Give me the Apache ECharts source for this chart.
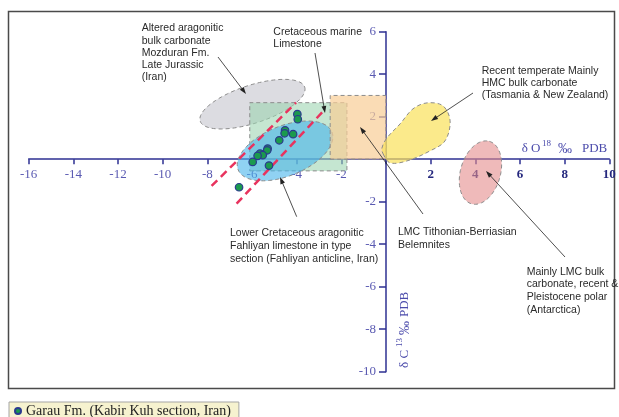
<!DOCTYPE html>
<html><head><meta charset="utf-8">
<script src="https://cdn.jsdelivr.net/npm/echarts@6/dist/echarts.min.js"></script>
<style>html,body{margin:0;padding:0;background:#fff}#c{width:619px;height:417px}</style>
</head><body><div id="c"></div>
<script>
// ---- data (delta O18 / delta C13, per mil PDB) ----
const seriesName = 'Garau Fm. (Kabir Kuh section, Iran)';
const garauD18O = [-3.97, -3.95, -4.52, -4.54, -4.16, -4.78, -5.30, -5.32, -5.64, -5.52, -5.75, -5.97, -5.24, -6.58];
const garauD13C = [2.12, 1.88, 1.36, 1.22, 1.18, 0.89, 0.50, 0.42, 0.26, 0.19, 0.16, -0.13, -0.30, -1.32];

// field regions in data units: ellipse = [cx, cy, ux, uy, vx, vy]
const alteredEllipse = [-5.98, 2.59, 2.34, 0.80, 0.26, -0.85];
const fahliyanEllipse = [-4.52, 0.39, 2.10, 0.89, 0.42, -1.09];
const polarEllipse = [4.23, -0.63, 0.40, 1.47, 0.86, -0.26];
// rect = [x1, y1, x2, y2]
const marineRect = [-6.1, -0.55, -1.75, 2.66];
const belemniteRect = [-2.5, 0, 0, 3];
const temperateOutline = [[-0.13, 0.25], [0.18, -0.17], [0.94, -0.08], [1.97, 0.39], [2.64, 0.86], [2.87, 1.80], [2.55, 2.51], [1.84, 2.65], [1.21, 2.37], [0.63, 1.66], [0.04, 1.0], [-0.18, 0.53]];
const trendLineA = [[-7.81, -1.26], [-4.03, 2.66]];
const trendLineB = [[-6.69, -2.09], [-2.73, 2.35]];

const xMin = -16, xMax = 10, yMin = -10, yMax = 6, tickStep = 2;

// ---- layout / styles ----
const W = 619, H = 417;
const G = { left: 28.7, right: 9.7, top: 31.7, bottom: 45.3 };
const plotW = W - G.left - G.right, plotH = H - G.top - G.bottom;
// place axes through the origin (move them inward from grid edges)
const xAxisOffset = -plotH * (0 - yMin) / (yMax - yMin);
const yAxisOffset = -plotW * (0 - xMin) / (xMax - xMin);

const AX = '#2e3192';
const LBL = '#5a5ab2';
const SERIF = '"Liberation Serif", "DejaVu Serif", serif';
const SANS = '"Liberation Sans", Arial, sans-serif';
const dashBorder = { stroke: '#8c8c8c', lineWidth: 1, lineDash: [4, 3] };

function ellipsePts(e) {
  const pts = [];
  for (let i = 0; i < 90; i++) {
    const t = i / 90 * Math.PI * 2;
    pts.push([e[0] + Math.cos(t) * e[2] + Math.sin(t) * e[4], e[1] + Math.cos(t) * e[3] + Math.sin(t) * e[5]]);
  }
  return pts;
}
function rectPts(r) { return [[r[0], r[1]], [r[2], r[1]], [r[2], r[3]], [r[0], r[3]]]; }

function shapeSeries(name, pts, fill, smooth, z) {
  return {
    type: 'custom', name: name, silent: true, z: z, clip: false,
    data: [pts[0]],
    renderItem: function (params, api) {
      return {
        type: 'polygon',
        shape: { points: pts.map(p => api.coord(p)), smooth: smooth || 0 },
        style: Object.assign({ fill: fill }, dashBorder)
      };
    }
  };
}

const chart = echarts.init(document.getElementById('c'), null, { renderer: 'canvas' });

const option = {
  animation: false,
  backgroundColor: '#fff',
  grid: { left: G.left, right: G.right, top: G.top, bottom: G.bottom, containLabel: false, outerBoundsMode: 'none' },
  xAxis: {
    type: 'value', min: xMin, max: xMax, interval: tickStep, position: 'bottom', offset: xAxisOffset,
    axisLine: { onZero: false, lineStyle: { color: AX, width: 1.5 } },
    axisTick: { length: 5, lineStyle: { color: AX, width: 1.5 } },
    splitLine: { show: false },
    axisLabel: {
      margin: 9, showMinLabel: true, showMaxLabel: true,
      formatter: v => v === 0 ? '' : (v < 0 ? '{n|' + v + '}' : '{p|' + v + '}'),
      rich: {
        n: { color: LBL, fontFamily: SERIF, fontSize: 13 },
        p: { color: '#25287e', fontFamily: SERIF, fontSize: 13, fontWeight: 'bold' }
      }
    }
  },
  yAxis: {
    type: 'value', min: yMin, max: yMax, interval: tickStep, position: 'left', offset: yAxisOffset,
    axisLine: { onZero: false, lineStyle: { color: AX, width: 1.5 } },
    axisTick: { length: 7, lineStyle: { color: AX, width: 1.5 } },
    splitLine: { show: false },
    axisLabel: { margin: 10, color: LBL, fontFamily: SERIF, fontSize: 13, formatter: v => v === 0 ? '' : String(v) }
  },
  legend: {
    data: [seriesName], left: 9, top: 402, icon: 'circle', itemWidth: 6, itemHeight: 6, itemGap: 5,
    backgroundColor: '#f6f2cf', borderColor: '#a5a5a5', borderWidth: 1, padding: [2, 8, 3, 5],
    textStyle: { fontFamily: SERIF, fontSize: 14, color: '#222' }
  },
  series: [
    shapeSeries('altered', ellipsePts(alteredEllipse), 'rgba(208,208,215,0.75)', 0, 2),
    shapeSeries('marine', rectPts(marineRect), 'rgba(155,212,175,0.58)', 0, 3),
    shapeSeries('fahliyan', ellipsePts(fahliyanEllipse), 'rgba(70,180,235,0.6)', 0, 4),
    shapeSeries('belemnites', rectPts(belemniteRect), 'rgba(248,205,150,0.7)', 0, 5),
    shapeSeries('temperate', temperateOutline, 'rgba(250,225,90,0.7)', 0.35, 5),
    shapeSeries('polar', ellipsePts(polarEllipse), 'rgba(228,140,140,0.6)', 0, 5),
    { type: 'line', name: 'trendA', data: trendLineA, symbol: 'none', silent: true, z: 6,
      lineStyle: { color: '#e8335e', width: 2.5, type: [8, 5] } },
    { type: 'line', name: 'trendB', data: trendLineB, symbol: 'none', silent: true, z: 6,
      lineStyle: { color: '#e8335e', width: 2.5, type: [8, 5] } },
    { type: 'scatter', name: seriesName, z: 8, symbolSize: 7.5,
      data: garauD18O.map((x, i) => [x, garauD13C[i]]),
      itemStyle: { color: '#1b9a4e', borderColor: '#2b3a8f', borderWidth: 1.2, opacity: 1 } }
  ]
};

// ---- annotations (pixel layout) ----
const notes = [
  { t: 'Altered aragonitic\nbulk carbonate\nMozduran Fm.\nLate Jurassic\n(Iran)', x: 141.7, y: 22.2, lh: 12.3, a: [218, 57, 246, 94] },
  { t: 'Cretaceous marine\nLimestone', x: 273.3, y: 26.3, lh: 12, a: [315, 53, 325, 113] },
  { t: 'Recent temperate Mainly\nHMC bulk carbonate\n(Tasmania & New Zealand)', x: 481.7, y: 64.5, lh: 12.3, a: [473, 93, 431, 121] },
  { t: 'LMC Tithonian-Berriasian\nBelemnites', x: 398, y: 225, lh: 13.3, a: [423, 214, 360, 127] },
  { t: 'Mainly LMC bulk\ncarbonate, recent &\nPleistocene polar\n(Antarctica)', x: 526.7, y: 265.3, lh: 12.8, a: [565, 257, 486, 171] },
  { t: 'Lower Cretaceous aragonitic\nFahliyan limestone in type\nsection (Fahliyan anticline, Iran)', x: 230, y: 226.8, lh: 13, a: [296.7, 216.7, 280, 177] }
];
const graphics = [
  { type: 'rect', shape: { x: 8.5, y: 11.5, width: 606, height: 377 }, style: { fill: 'none', stroke: '#4a4a4a', lineWidth: 1.5 }, z: 0, silent: true }
];
notes.forEach(n => {
  graphics.push({ type: 'text', z: 20, silent: true, style: { text: n.t, x: n.x, y: n.y, font: '10.5px ' + SANS, fill: '#2a2a2a', lineHeight: n.lh, align: 'left', verticalAlign: 'top' } });
  const [x1, y1, x2, y2] = n.a;
  const dx = x2 - x1, dy = y2 - y1, L = Math.hypot(dx, dy), ux = dx / L, uy = dy / L;
  const hl = 7, hw = 2.4;
  graphics.push({ type: 'line', z: 20, silent: true, shape: { x1: x1, y1: y1, x2: x2 - ux * 5, y2: y2 - uy * 5 }, style: { stroke: '#222', lineWidth: 0.8 } });
  graphics.push({ type: 'polygon', z: 20, silent: true, shape: { points: [[x2, y2], [x2 - ux * hl - uy * hw, y2 - uy * hl + ux * hw], [x2 - ux * hl + uy * hw, y2 - uy * hl - ux * hw]] }, style: { fill: '#222' } });
});
// axis titles
const tStyle = (text, x, y, size) => ({ text: text, x: x, y: y, font: size + 'px ' + SERIF, fill: '#4b4bab', align: 'left', verticalAlign: 'middle' });
graphics.push({ type: 'text', z: 20, silent: true, style: tStyle('\u03b4 O', 521.7, 149, 13) });
graphics.push({ type: 'text', z: 20, silent: true, style: tStyle('18', 542, 144, 9) });
graphics.push({ type: 'text', z: 20, silent: true, style: tStyle('\u2030', 558, 149, 14) });
graphics.push({ type: 'text', z: 20, silent: true, style: tStyle('PDB', 582, 149, 13) });
graphics.push({ type: 'group', x: 405, y: 368, rotation: Math.PI / 2, z: 20, silent: true, children: [
  { type: 'text', style: tStyle('\u03b4 C', 0, 0, 13) },
  { type: 'text', style: tStyle('13', 21, -5, 9) },
  { type: 'text', style: tStyle('\u2030', 33, 0, 14) },
  { type: 'text', style: tStyle('PDB', 51, 0, 13) }
] });
option.graphic = graphics;

chart.setOption(option);
</script>
</body></html>
